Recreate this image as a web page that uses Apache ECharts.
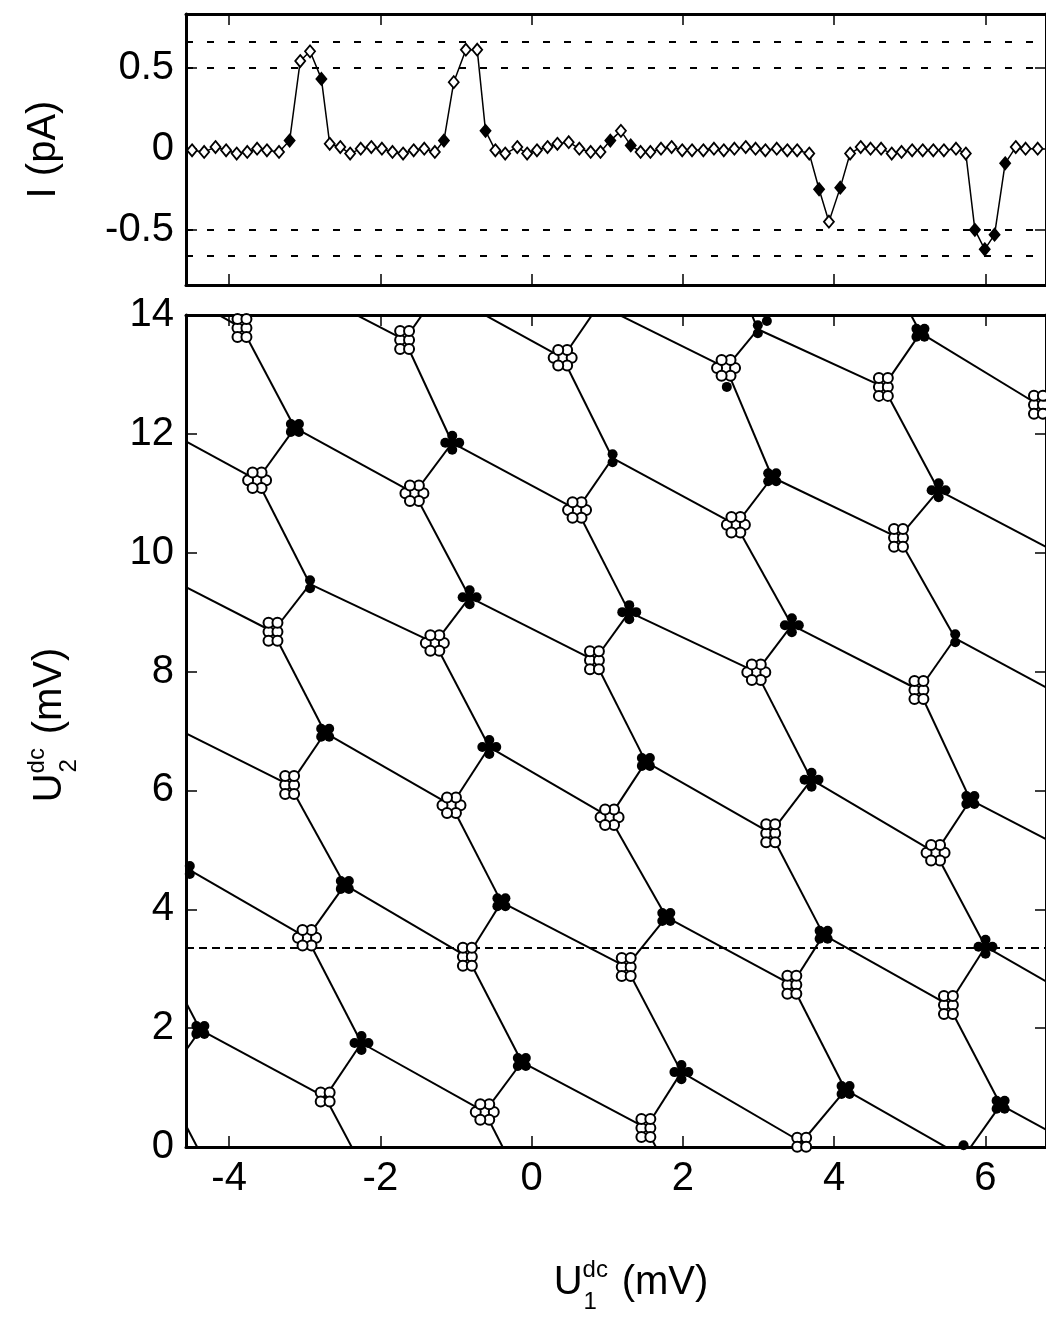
<!DOCTYPE html>
<html><head><meta charset="utf-8">
<script src="https://cdn.jsdelivr.net/npm/echarts@6/dist/echarts.min.js"></script>
<style>html,body{margin:0;padding:0;background:#fff}#c{width:1046px;height:1319px}</style>
</head><body><div id="c"></div>
<script>
// ---------- data ----------
const xTicks = [-4, -2, 0, 2, 4, 6];
const iTicks = [-0.5, 0, 0.5];
const refLevels = [0.66, 0.5, -0.5, -0.66];
const cutU2 = 3.35;

// top panel: current scan along U2 = cutU2
const scanU1 = [-4.49,-4.33,-4.18,-4.04,-3.90,-3.76,-3.63,-3.50,-3.34,-3.20,
  -3.06,-2.93,-2.78,-2.67,-2.53,-2.40,-2.26,-2.12,-1.98,-1.84,
  -1.70,-1.56,-1.42,-1.28,-1.16,-1.03,-0.87,-0.72,-0.61,-0.48,
  -0.35,-0.19,-0.06,0.07,0.21,0.34,0.49,0.63,0.78,0.91,
  1.04,1.18,1.31,1.44,1.57,1.71,1.85,1.99,2.12,2.27,
  2.41,2.54,2.68,2.83,2.96,3.09,3.24,3.38,3.51,3.67,
  3.80,3.93,4.08,4.21,4.35,4.48,4.62,4.76,4.89,5.03,
  5.17,5.31,5.45,5.61,5.74,5.86,5.99,6.12,6.26,6.40,
  6.53,6.69];
const scanI = [-0.01,-0.02,0.01,-0.01,-0.03,-0.02,0.00,-0.01,-0.02,0.05,
  0.54,0.60,0.43,0.03,0.01,-0.03,0.00,0.01,0.00,-0.02,
  -0.03,-0.01,0.00,-0.02,0.05,0.41,0.61,0.61,0.11,-0.01,
  -0.03,0.01,-0.03,-0.01,0.01,0.03,0.04,0.00,-0.02,-0.02,
  0.05,0.11,0.02,-0.02,-0.02,0.00,0.01,-0.01,-0.01,-0.01,
  0.00,-0.01,0.00,0.01,0.00,-0.01,0.00,-0.01,-0.01,-0.03,
  -0.25,-0.45,-0.24,-0.03,0.01,0.00,0.00,-0.03,-0.02,-0.01,
  -0.01,-0.01,-0.01,0.00,-0.03,-0.50,-0.62,-0.53,-0.09,0.01,
  0.00,0.00];
const scanFilledIdx = [9,12,24,28,40,42,60,62,75,76,77,78];

// bottom panel: honeycomb vertices (rows of lattice, columns -1..5)
// open-circle vertices, lattice rows -1..5
const openU1 = [
  [-6.20,-4.03,-1.88,0.21,2.37,4.45,6.50],
  [-5.98,-3.83,-1.68,0.41,2.57,4.65,6.70],
  [-5.77,-3.63,-1.55,0.60,2.70,4.85,6.96],
  [-5.54,-3.42,-1.28,0.83,2.97,5.12,7.23],
  [-5.33,-3.20,-1.06,1.03,3.16,5.34,7.45],
  [-5.11,-2.97,-0.85,1.25,3.44,5.51,7.65],
  [-4.87,-2.73,-0.62,1.51,3.57,5.71,7.82]
];
const openU2 = [
  [16.54,16.34,16.14,15.84,15.67,15.35,15.05],
  [13.98,13.78,13.58,13.28,13.11,12.79,12.49],
  [11.43,11.22,11.00,10.72,10.47,10.25,9.99],
  [8.87,8.67,8.48,8.19,7.99,7.69,7.44],
  [6.31,6.09,5.75,5.55,5.28,4.95,4.75],
  [3.74,3.52,3.20,3.03,2.73,2.39,2.17],
  [1.09,0.84,0.59,0.32,0.08,-0.17,-0.42]
];
const openPat = [
  ['','','','','','',''],
  ['','G','G','F','F','G','G'],
  ['','F','F','F','F','G',''],
  ['','G','F','G','F','G',''],
  ['','G','F','F','G','F',''],
  ['','F','G','G','G','G',''],
  ['','Q','F','G','Q','Q','']
];
// filled-circle vertices, lattice rows 0..6
const filledU1 = [
  [-5.37,-3.33,-1.22,0.89,2.99,5.14,7.23],
  [-5.21,-3.13,-1.05,1.07,3.18,5.38,7.42],
  [-5.04,-2.93,-0.82,1.29,3.44,5.60,7.69],
  [-4.87,-2.73,-0.56,1.51,3.70,5.80,7.89],
  [-4.52,-2.47,-0.40,1.78,3.86,6.00,8.08],
  [-4.38,-2.25,-0.13,1.98,4.15,6.20,8.28],
  [-4.16,-2.02,0.09,2.20,4.38,6.42,8.51]
];
const filledU2 = [
  [14.89,14.67,14.42,14.17,13.76,13.70,13.41],
  [12.32,12.10,11.85,11.59,11.27,11.05,10.80],
  [9.73,9.47,9.25,9.00,8.78,8.56,8.28],
  [7.15,6.97,6.73,6.48,6.18,5.84,5.59],
  [4.66,4.41,4.12,3.87,3.57,3.37,3.06],
  [1.97,1.75,1.43,1.26,0.96,0.71,0.45],
  [-0.64,-0.86,-1.18,-1.35,-1.65,-1.90,-2.15]
];
const filledPat = [
  ['','','','','D','B',''],
  ['','B','P','D','B','P',''],
  ['','D','P','P','P','D',''],
  ['','B','P','B','P','B',''],
  ['D','B','B','B','B','P',''],
  ['B','P','B','P','B','B',''],
  ['','','','','','','']
];
// point offsets (mV) of the measured points making up each cluster
const clusterShapes = {
  F: [[0,0],[0.119,0],[-0.119,0],[0.059,0.131],[-0.059,0.131],[0.059,-0.131],[-0.059,-0.131]],
  G: [[-0.059,0],[0.059,0],[-0.059,0.151],[0.059,0.151],[-0.059,-0.151],[0.059,-0.151]],
  Q: [[-0.059,0.076],[0.059,0.076],[-0.059,-0.076],[0.059,-0.076]],
  B: [[0,0],[-0.053,0.067],[0.053,0.067],[-0.053,-0.067],[0.053,-0.067]],
  P: [[0,0],[0.092,0],[-0.092,0],[0,0.118],[0,-0.118]],
  D: [[0,0.067],[0,-0.067]]
};
const extraFilledU1 = [2.58, 3.11, 5.71];
const extraFilledU2 = [12.79, 13.90, 0.03];

// ---------- build ----------
const FONT = '"Liberation Sans", Arial, Helvetica, sans-serif';
const X_MIN = -4.57, X_MAX = 6.8;

function clusterPoints(U1, U2, pat) {
  const pts = [];
  U1.forEach((row, k) => row.forEach((u, c) => {
    const p = pat[k][c];
    if (!p) return;
    clusterShapes[p].forEach(([dx, dy]) => pts.push([u + dx, U2[k][c] + dy]));
  }));
  return pts;
}
const openPts = clusterPoints(openU1, openU2, openPat);
const filledPts = clusterPoints(filledU1, filledU2, filledPat)
  .concat(extraFilledU1.map((u, i) => [u, extraFilledU2[i]]));

const edges = [];
for (let k = 0; k < openU1.length; k++) {
  for (let c = 0; c < 7; c++) {
    const o = [openU1[k][c], openU2[k][c]];
    edges.push({coords: [o, [filledU1[k][c], filledU2[k][c]]]});            // steep
    if (k > 0) {
      edges.push({coords: [o, [filledU1[k-1][c], filledU2[k-1][c]]]});      // short
      if (c > 0) edges.push({coords: [[filledU1[k-1][c-1], filledU2[k-1][c-1]], o]}); // shallow
    }
  }
}

const scanData = scanU1.map((u, i) => scanFilledIdx.includes(i)
  ? {value: [u, scanI[i]], itemStyle: {color: '#000'}}
  : [u, scanI[i]]);

const lbl = {fontFamily: FONT, fontSize: 40, color: '#000'};
const lineCfg = {show: true, onZero: false, lineStyle: {color: '#000', width: 3}};
const tickCfg = (vals) => Object.assign({show: true, inside: true, length: 11, lineStyle: {color: '#000', width: 1.5}}, vals ? {customValues: vals} : {});

function xAx(grid, pos, labels) {
  return {type: 'value', gridIndex: grid, position: pos, min: X_MIN, max: X_MAX,
    axisLine: lineCfg, axisTick: tickCfg(xTicks), splitLine: {show: false},
    axisLabel: labels ? Object.assign({show: true, customValues: xTicks, margin: 12}, lbl) : {show: false}};
}

const nameRich = {
  u: {fontFamily: FONT, fontSize: 40, lineHeight: 48, color: '#000', align: 'left'},
  sup: {fontFamily: FONT, fontSize: 24, width: 1, lineHeight: 24, padding: [0, 0, 26, 0], color: '#000', align: 'left'},
  sub: {fontFamily: FONT, fontSize: 24, width: 27, lineHeight: 24, padding: [38, 0, 0, 0], color: '#000', align: 'left'},
  t: {fontFamily: FONT, fontSize: 40, lineHeight: 48, color: '#000', align: 'left'}
};

const option = {
  animation: false,
  backgroundColor: '#fff',
  grid: [
    {left: 186, top: 14, right: -2, height: 271},
    {left: 186, top: 315, right: -2, height: 832}
  ],
  xAxis: [
    xAx(0, 'bottom', false),
    xAx(0, 'top', false),
    Object.assign(xAx(1, 'bottom', true), {
      name: '{u|U}{sup|dc}{sub|1}{t| (mV)}', nameLocation: 'middle', nameGap: 112,
      nameTextStyle: {rich: nameRich, padding: [0, 0, 0, 30]}
    }),
    xAx(1, 'top', false)
  ],
  yAxis: [
    {type: 'value', gridIndex: 0, position: 'left', min: -0.84, max: 0.83,
      axisLine: lineCfg, axisTick: tickCfg(iTicks), splitLine: {show: false},
      axisLabel: Object.assign({customValues: iTicks, margin: 12}, lbl),
      name: 'I (pA)', nameLocation: 'middle', nameGap: 122,
      nameTextStyle: {fontFamily: FONT, fontSize: 40, color: '#000'}},
    {type: 'value', gridIndex: 0, position: 'right', min: -0.84, max: 0.83,
      axisLine: lineCfg, axisTick: tickCfg(iTicks), splitLine: {show: false}, axisLabel: {show: false}},
    {type: 'value', gridIndex: 1, position: 'left', min: 0, max: 14, interval: 2,
      axisLine: lineCfg, axisTick: tickCfg(), splitLine: {show: false},
      axisLabel: Object.assign({margin: 12}, lbl),
      name: '{u|U}{sup|dc}{sub|2}{t| (mV)}', nameLocation: 'middle', nameGap: 112,
      nameTextStyle: {rich: nameRich, padding: [0, 0, 0, 12]}},
    {type: 'value', gridIndex: 1, position: 'right', min: 0, max: 14, interval: 2,
      axisLine: lineCfg, axisTick: tickCfg(), splitLine: {show: false}, axisLabel: {show: false}}
  ],
  series: [
    {type: 'line', xAxisIndex: 0, yAxisIndex: 0, data: scanData, z: 3,
      symbol: 'diamond', symbolSize: [10, 12], showAllSymbol: true,
      itemStyle: {color: '#fff', borderColor: '#000', borderWidth: 1.8, opacity: 1},
      lineStyle: {color: '#000', width: 1.5},
      markLine: {silent: true, symbol: 'none', label: {show: false},
        lineStyle: {color: '#000', width: 2, type: [7, 14]},
        data: refLevels.map(v => ({yAxis: v}))}},
    {type: 'lines', coordinateSystem: 'cartesian2d', xAxisIndex: 2, yAxisIndex: 2,
      data: edges, clip: true, z: 2, silent: true,
      lineStyle: {color: '#000', width: 2, opacity: 1, curveness: 0}},
    {type: 'scatter', xAxisIndex: 2, yAxisIndex: 2, data: openPts, z: 4,
      symbol: 'circle', symbolSize: 10,
      itemStyle: {color: '#fff', borderColor: '#000', borderWidth: 2, opacity: 1},
      markLine: {silent: true, symbol: 'none', label: {show: false}, z: 1,
        lineStyle: {color: '#000', width: 2, type: [8, 5]},
        data: [{yAxis: cutU2}]}},
    {type: 'scatter', xAxisIndex: 2, yAxisIndex: 2, data: filledPts, z: 5,
      symbol: 'circle', symbolSize: 10, itemStyle: {color: '#000', opacity: 1}}
  ]
};
const chart = echarts.init(document.getElementById('c'), null, {renderer: 'canvas'});
chart.setOption(option);
</script>
</body></html>
